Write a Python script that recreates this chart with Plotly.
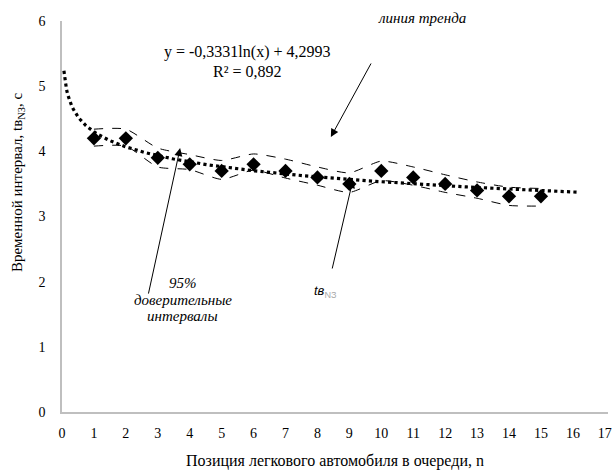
import numpy as np
import plotly.graph_objects as go

# Data
positions = [1, 2, 3, 4, 5, 6, 7, 8, 9, 10, 11, 12, 13, 14, 15]
t_values = [4.2, 4.2, 3.9, 3.8, 3.7, 3.8, 3.7, 3.6, 3.5, 3.7, 3.6, 3.5, 3.4, 3.31, 3.31]
upper_ci = [4.34, 4.34, 4.05, 3.95, 3.86, 3.96, 3.88, 3.76, 3.67, 3.85, 3.76, 3.64, 3.53, 3.45, 3.43]
lower_ci = [4.08, 4.08, 3.76, 3.72, 3.57, 3.71, 3.59, 3.48, 3.37, 3.55, 3.48, 3.37, 3.28, 3.17, 3.16]

# Trend line (Excel logarithmic fit shown in chart)
trend_a = -0.3331
trend_b = 4.2993
trend_x_start = 0.06
trend_x_end = 16.2
trend_x = np.linspace(trend_x_start, trend_x_end, 400)
trend_y = trend_a * np.log(trend_x) + trend_b

x_ticks = list(range(0, 18))
y_ticks = list(range(0, 7))

SERIF = "Liberation Serif, Times New Roman, serif"

fig = go.Figure()

fig.add_trace(go.Scatter(x=positions, y=upper_ci, mode="lines",
                         line=dict(color="black", width=1, dash="dash", shape="spline", smoothing=0.6),
                         showlegend=False, hoverinfo="skip"))
fig.add_trace(go.Scatter(x=positions, y=lower_ci, mode="lines",
                         line=dict(color="black", width=1, dash="dash", shape="spline", smoothing=0.6),
                         showlegend=False, hoverinfo="skip"))
fig.add_trace(go.Scatter(x=trend_x, y=trend_y, mode="lines",
                         line=dict(color="black", width=3.2, dash="dot"),
                         showlegend=False, hoverinfo="skip"))
fig.add_trace(go.Scatter(x=positions, y=t_values, mode="markers",
                         marker=dict(symbol="diamond", size=11, color="black"),
                         showlegend=False))

def label(x, y, text, size, family=SERIF):
    return dict(x=x, y=y, xref="paper", yref="paper", showarrow=False,
                xanchor="center", yanchor="middle", text=text,
                font=dict(family=family, size=size, color="black"))

annotations = [
    label(0.339, 0.921, "y = -0,3331ln(x) + 4,2993", 16),
    label(0.339, 0.870, "R² = 0,892", 16),
    label(0.659, 1.008, "<i>линия тренда</i>", 15),
    label(0.2216, 0.330, "<i>95%</i>", 15),
    label(0.2216, 0.286, "<i>доверительные</i>", 15),
    label(0.2216, 0.246, "<i>интервалы</i>", 15),
    label(0.4835, 0.307, "<i>tв</i><sub><span style='color:#aaaaaa'>NЗ</span></sub>", 13,
          "Liberation Sans, Arial, sans-serif"),
    # y-axis title
    dict(x=-0.0806, y=0.588, xref="paper", yref="paper", showarrow=False,
         xanchor="center", yanchor="middle", textangle=-90,
         text="Временной интервал, tв<sub>NЗ</sub>, с",
         font=dict(family=SERIF, size=15, color="black")),
    # arrows
    dict(x=8.42, y=4.22, xref="x", yref="y", ax=41, ay=-75, showarrow=True,
         arrowhead=2, arrowsize=1.6, arrowwidth=1, arrowcolor="black", text=""),
    dict(x=3.70, y=4.05, xref="x", yref="y", ax=-32, ay=147, showarrow=True,
         arrowhead=2, arrowsize=1.6, arrowwidth=1, arrowcolor="black", text=""),
    dict(x=9.11, y=3.56, xref="x", yref="y", ax=-21, ay=90, showarrow=True,
         arrowhead=2, arrowsize=1.6, arrowwidth=1, arrowcolor="black", text=""),
]

fig.update_layout(
    width=614, height=470,
    margin=dict(l=62, r=6, t=21, b=58, autoexpand=False),
    paper_bgcolor="white", plot_bgcolor="white",
    font=dict(family=SERIF, size=14, color="black"),
    annotations=annotations,
    xaxis=dict(range=[0, 17.1], tickmode="array", tickvals=x_ticks, automargin=False,
               showgrid=False, zeroline=False, showline=True, linecolor="#BFBFBF", linewidth=1.5,
               ticks="", ticklabelstandoff=7,
               title=dict(text="Позиция легкового автомобиля в очереди, n", standoff=18,
                          font=dict(family=SERIF, size=16))),
    yaxis=dict(range=[0, 6], tickmode="array", tickvals=y_ticks, automargin=False,
               showgrid=False, zeroline=False, showline=True, linecolor="#BFBFBF", linewidth=1.5,
               ticks="", ticklabelstandoff=12),
)

fig.write_html("out.html")
